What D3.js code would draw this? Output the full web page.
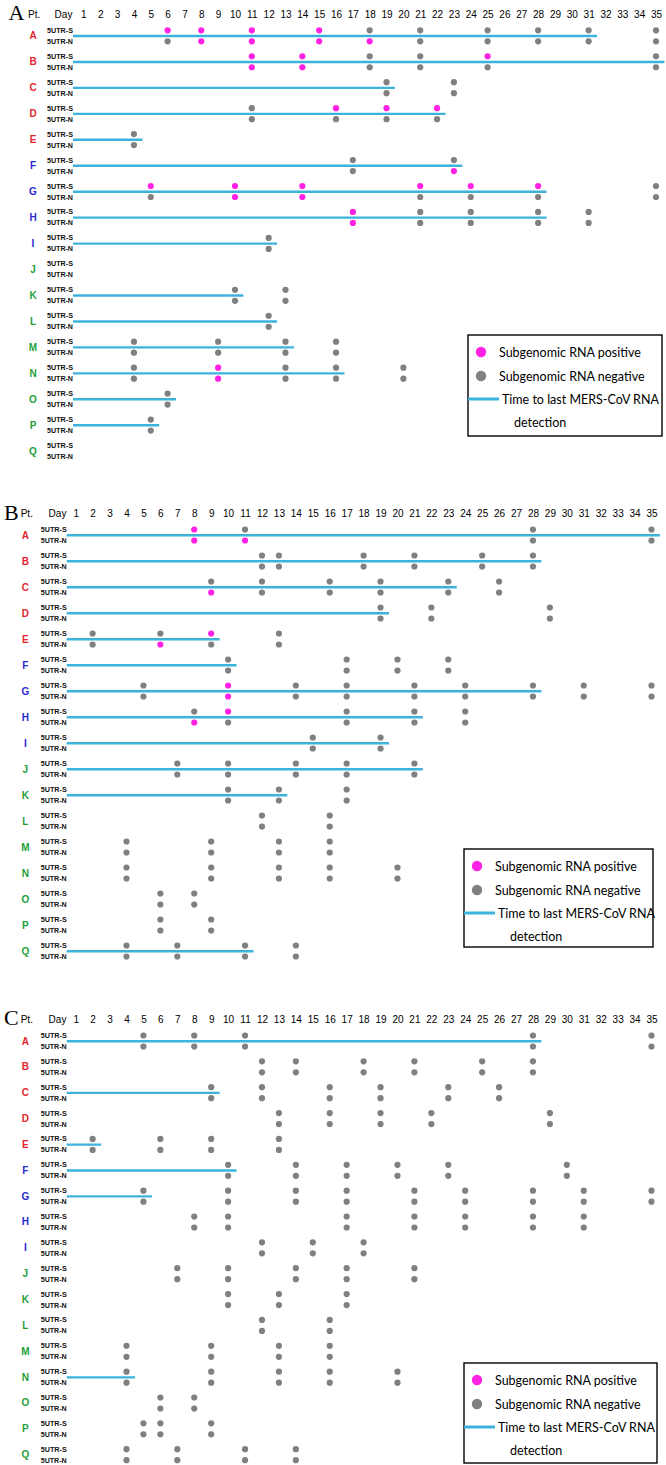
<!DOCTYPE html>
<html>
<head>
<meta charset="utf-8">
<script src="https://cdn.jsdelivr.net/npm/d3@7"></script>
<style>
  body { margin: 0; background: #fff; }
  svg { display: block; }
</style>
</head>
<body>
<div id="chart"></div>
<script>
// Days shown in the header of every panel
const days = [1, 2, 3, 4, 5, 6, 7, 8, 9, 10, 11, 12, 13, 14, 15, 16, 17, 18,
              19, 20, 21, 22, 23, 24, 25, 26, 27, 28, 29, 30, 31, 32, 33, 34, 35];
const patients = ['A', 'B', 'C', 'D', 'E', 'F', 'G', 'H', 'I', 'J', 'K', 'L', 'M', 'N', 'O', 'P', 'Q'];
const targets = ['5UTR-S', '5UTR-N'];

// [patient, day, 5UTR-S subgenomic, 5UTR-N subgenomic]  1 = positive, 0 = negative
const panelA_samples = [
  ['A', 6, 1, 0], ['A', 8, 1, 1], ['A', 11, 1, 1], ['A', 15, 1, 1], ['A', 18, 0, 1],
  ['A', 21, 0, 0], ['A', 25, 0, 0], ['A', 28, 0, 0], ['A', 31, 0, 0], ['A', 35, 0, 0],
  ['B', 11, 1, 1], ['B', 14, 1, 1], ['B', 18, 0, 0], ['B', 21, 0, 0], ['B', 25, 1, 0], ['B', 35, 0, 0],
  ['C', 19, 0, 0], ['C', 23, 0, 0],
  ['D', 11, 0, 0], ['D', 16, 1, 0], ['D', 19, 1, 0], ['D', 22, 1, 0],
  ['E', 4, 0, 0],
  ['F', 17, 0, 0], ['F', 23, 0, 1],
  ['G', 5, 1, 0], ['G', 10, 1, 1], ['G', 14, 1, 1], ['G', 21, 1, 0], ['G', 24, 1, 0], ['G', 28, 1, 0], ['G', 35, 0, 0],
  ['H', 17, 1, 1], ['H', 21, 0, 0], ['H', 24, 0, 0], ['H', 28, 0, 0], ['H', 31, 0, 0],
  ['I', 12, 0, 0],
  ['K', 10, 0, 0], ['K', 13, 0, 0],
  ['L', 12, 0, 0],
  ['M', 4, 0, 0], ['M', 9, 0, 0], ['M', 13, 0, 0], ['M', 16, 0, 0],
  ['N', 4, 0, 0], ['N', 9, 1, 1], ['N', 13, 0, 0], ['N', 16, 0, 0], ['N', 20, 0, 0],
  ['O', 6, 0, 0],
  ['P', 5, 0, 0]
];
// [patient, last day with MERS-CoV RNA detected]
const panelA_lastDetection = [
  ['A', 31], ['B', 35], ['C', 19], ['D', 22], ['E', 4], ['F', 23], ['G', 28], ['H', 28],
  ['I', 12], ['K', 10], ['L', 12], ['M', 13], ['N', 16], ['O', 6], ['P', 5]
];

const panelB_samples = [
  ['A', 8, 1, 1], ['A', 11, 0, 1], ['A', 28, 0, 0], ['A', 35, 0, 0],
  ['B', 12, 0, 0], ['B', 13, 0, 0], ['B', 18, 0, 0], ['B', 21, 0, 0], ['B', 25, 0, 0], ['B', 28, 0, 0],
  ['C', 9, 0, 1], ['C', 12, 0, 0], ['C', 16, 0, 0], ['C', 19, 0, 0], ['C', 23, 0, 0], ['C', 26, 0, 0],
  ['D', 19, 0, 0], ['D', 22, 0, 0], ['D', 29, 0, 0],
  ['E', 2, 0, 0], ['E', 6, 0, 1], ['E', 9, 1, 0], ['E', 13, 0, 0],
  ['F', 10, 0, 0], ['F', 17, 0, 0], ['F', 20, 0, 0], ['F', 23, 0, 0],
  ['G', 5, 0, 0], ['G', 10, 1, 1], ['G', 14, 0, 0], ['G', 17, 0, 0], ['G', 21, 0, 0],
  ['G', 24, 0, 0], ['G', 28, 0, 0], ['G', 31, 0, 0], ['G', 35, 0, 0],
  ['H', 8, 0, 1], ['H', 10, 1, 0], ['H', 17, 0, 0], ['H', 21, 0, 0], ['H', 24, 0, 0],
  ['I', 15, 0, 0], ['I', 19, 0, 0],
  ['J', 7, 0, 0], ['J', 10, 0, 0], ['J', 14, 0, 0], ['J', 17, 0, 0], ['J', 21, 0, 0],
  ['K', 10, 0, 0], ['K', 13, 0, 0], ['K', 17, 0, 0],
  ['L', 12, 0, 0], ['L', 16, 0, 0],
  ['M', 4, 0, 0], ['M', 9, 0, 0], ['M', 13, 0, 0], ['M', 16, 0, 0],
  ['N', 4, 0, 0], ['N', 9, 0, 0], ['N', 13, 0, 0], ['N', 16, 0, 0], ['N', 20, 0, 0],
  ['O', 6, 0, 0], ['O', 8, 0, 0],
  ['P', 6, 0, 0], ['P', 9, 0, 0],
  ['Q', 4, 0, 0], ['Q', 7, 0, 0], ['Q', 11, 0, 0], ['Q', 14, 0, 0]
];
const panelB_lastDetection = [
  ['A', 35], ['B', 28], ['C', 23], ['D', 19], ['E', 9], ['F', 10], ['G', 28],
  ['H', 21], ['I', 19], ['J', 21], ['K', 13], ['Q', 11]
];

const panelC_samples = [
  ['A', 5, 0, 0], ['A', 8, 0, 0], ['A', 11, 0, 0], ['A', 28, 0, 0], ['A', 35, 0, 0],
  ['B', 12, 0, 0], ['B', 14, 0, 0], ['B', 18, 0, 0], ['B', 21, 0, 0], ['B', 25, 0, 0], ['B', 28, 0, 0],
  ['C', 9, 0, 0], ['C', 12, 0, 0], ['C', 16, 0, 0], ['C', 19, 0, 0], ['C', 23, 0, 0], ['C', 26, 0, 0],
  ['D', 13, 0, 0], ['D', 16, 0, 0], ['D', 19, 0, 0], ['D', 22, 0, 0], ['D', 29, 0, 0],
  ['E', 2, 0, 0], ['E', 6, 0, 0], ['E', 9, 0, 0], ['E', 13, 0, 0],
  ['F', 10, 0, 0], ['F', 14, 0, 0], ['F', 17, 0, 0], ['F', 20, 0, 0], ['F', 23, 0, 0], ['F', 30, 0, 0],
  ['G', 5, 0, 0], ['G', 10, 0, 0], ['G', 14, 0, 0], ['G', 17, 0, 0], ['G', 21, 0, 0],
  ['G', 24, 0, 0], ['G', 28, 0, 0], ['G', 31, 0, 0], ['G', 35, 0, 0],
  ['H', 8, 0, 0], ['H', 10, 0, 0], ['H', 17, 0, 0], ['H', 21, 0, 0], ['H', 24, 0, 0], ['H', 28, 0, 0], ['H', 31, 0, 0],
  ['I', 12, 0, 0], ['I', 15, 0, 0], ['I', 18, 0, 0],
  ['J', 7, 0, 0], ['J', 10, 0, 0], ['J', 14, 0, 0], ['J', 17, 0, 0], ['J', 21, 0, 0],
  ['K', 10, 0, 0], ['K', 13, 0, 0], ['K', 17, 0, 0],
  ['L', 12, 0, 0], ['L', 16, 0, 0],
  ['M', 4, 0, 0], ['M', 9, 0, 0], ['M', 13, 0, 0], ['M', 16, 0, 0],
  ['N', 4, 0, 0], ['N', 9, 0, 0], ['N', 13, 0, 0], ['N', 16, 0, 0], ['N', 20, 0, 0],
  ['O', 6, 0, 0], ['O', 8, 0, 0],
  ['P', 5, 0, 0], ['P', 6, 0, 0], ['P', 9, 0, 0],
  ['Q', 4, 0, 0], ['Q', 7, 0, 0], ['Q', 11, 0, 0], ['Q', 14, 0, 0]
];
const panelC_lastDetection = [
  ['A', 28], ['C', 9], ['E', 2], ['F', 10], ['G', 5], ['N', 4]
];

const legendLabels = ['Subgenomic RNA positive', 'Subgenomic RNA negative', 'Time to last MERS-CoV RNA', 'detection'];

// Styles
const POS = '#ff22e4', NEG = '#808080', LINE = '#3db3dc';
const RED = '#e3262e', BLUE = '#2a2ad0', GREEN = '#23a03a';
function patientColor(p) {
  if ('ABCDE'.includes(p)) return RED;
  if ('FGHI'.includes(p)) return BLUE;
  return GREEN;
}

const width = 666, height = 1465;
const svg = d3.select('#chart').append('svg')
  .attr('width', width)
  .attr('height', height);

const panels = [
  { name: 'A', samples: panelA_samples, last: panelA_lastDetection,
    headerY: 14, xRange: [83.4, 656], rowRange: [35.8, 451], labelRight: 73,
    letterX: 33, bigX: 8.5, ptX: 28, dayX: 63.5,
    legend: { x: 468, y: 335, w: 194, h: 101 } },
  { name: 'B', samples: panelB_samples, last: panelB_lastDetection,
    headerY: 513.5, xRange: [75.7, 651.5], rowRange: [535, 951], labelRight: 66.7,
    letterX: 25.3, bigX: 4, ptX: 20.7, dayX: 57.5,
    legend: { x: 464, y: 849, w: 189, h: 98 } },
  { name: 'C', samples: panelC_samples, last: panelC_lastDetection,
    headerY: 1019, xRange: [75.7, 651.5], rowRange: [1041, 1454.7], labelRight: 66.7,
    letterX: 25.3, bigX: 4, ptX: 20.7, dayX: 57.5,
    legend: { x: 464, y: 1363, w: 193, h: 100 } }
];

panels.forEach(drawPanel);

function drawPanel(p) {
  const g = svg.append('g').attr('class', 'panel-' + p.name);

  const x = d3.scaleLinear().domain([1, 35]).range(p.xRange);
  const step = x(2) - x(1);
  const y = d3.scalePoint().domain(patients).range(p.rowRange);
  const sub = d3.scalePoint().domain(targets).range([-5.5, 5.5]);

  // Panel letter, Pt. and Day
  g.append('text')
    .attr('x', p.bigX).attr('y', p.headerY + 6)
    .attr('font-family', 'Liberation Serif, serif')
    .attr('font-size', 22)
    .text(p.name);
  g.append('text')
    .attr('x', p.ptX).attr('y', p.headerY + 3.5)
    .attr('font-family', 'Liberation Sans, Arial, sans-serif')
    .attr('font-size', 10)
    .text('Pt.');
  g.append('text')
    .attr('x', p.dayX).attr('y', p.headerY + 3.5)
    .attr('text-anchor', 'middle')
    .attr('font-family', 'Liberation Sans, Arial, sans-serif')
    .attr('font-size', 10)
    .text('Day');

  // Day header as a top axis with no ticks
  g.append('g')
    .attr('transform', `translate(0,${p.headerY + 3.5})`)
    .call(d3.axisTop(x).tickValues(days).tickSize(0).tickPadding(0).tickFormat(d3.format('d')))
    .call(a => a.select('.domain').remove())
    .call(a => a.selectAll('text')
      .attr('font-family', 'Liberation Sans, Arial, sans-serif')
      .attr('font-size', 10)
      .attr('fill', '#000'));

  // Patient rows
  const rows = g.append('g').selectAll('g')
    .data(patients)
    .join('g')
    .attr('transform', d => `translate(0,${y(d)})`);

  rows.append('text')
    .attr('x', p.letterX)
    .attr('y', 0)
    .attr('text-anchor', 'middle')
    .attr('dominant-baseline', 'central')
    .attr('font-family', 'Liberation Sans, Arial, sans-serif')
    .attr('font-weight', 'bold')
    .attr('font-size', 10)
    .attr('fill', d => patientColor(d))
    .text(d => d);

  rows.selectAll('text.target')
    .data(targets)
    .join('text')
    .attr('class', 'target')
    .attr('x', p.labelRight - 26)
    .attr('y', t => sub(t))
    .attr('dominant-baseline', 'central')
    .attr('font-family', 'Liberation Sans, Arial, sans-serif')
    .attr('font-weight', 'bold')
    .attr('font-size', 8)
    .attr('textLength', 26)
    .attr('lengthAdjust', 'spacingAndGlyphs')
    .attr('fill', '#111')
    .text(t => t);

  // Time to last RNA detection
  g.append('g').selectAll('line')
    .data(p.last)
    .join('line')
    .attr('x1', p.labelRight)
    .attr('x2', d => x(d[1]) + step / 2)
    .attr('y1', d => y(d[0]) + 0.2)
    .attr('y2', d => y(d[0]) + 0.2)
    .attr('stroke', LINE)
    .attr('stroke-width', 2.4);

  // Sample dots, one per target
  const dots = [];
  p.samples.forEach(s => {
    dots.push({ pt: s[0], day: s[1], target: targets[0], pos: s[2] });
    dots.push({ pt: s[0], day: s[1], target: targets[1], pos: s[3] });
  });
  g.append('g').selectAll('circle')
    .data(dots)
    .join('circle')
    .attr('cx', d => x(d.day))
    .attr('cy', d => y(d.pt) + sub(d.target))
    .attr('r', 3.1)
    .attr('fill', d => d.pos ? POS : NEG);

  drawLegend(g, p.legend);
}

function drawLegend(g, L) {
  const lg = g.append('g').attr('transform', `translate(${L.x},${L.y})`);
  lg.append('rect')
    .attr('width', L.w).attr('height', L.h)
    .attr('fill', '#fff')
    .attr('stroke', '#000')
    .attr('stroke-width', 1.4);

  const rowY = [17, 41, 64, 87];
  const font = 'Lato, Calibri, Carlito, sans-serif';

  lg.append('circle').attr('cx', 13).attr('cy', rowY[0]).attr('r', 5.2).attr('fill', POS);
  lg.append('circle').attr('cx', 13).attr('cy', rowY[1]).attr('r', 5.2).attr('fill', NEG);
  lg.append('line')
    .attr('x1', 0).attr('x2', 31)
    .attr('y1', rowY[2]).attr('y2', rowY[2])
    .attr('stroke', LINE).attr('stroke-width', 3);

  const tx = [31, 31, 34, 46];
  lg.selectAll('text')
    .data(legendLabels)
    .join('text')
    .attr('x', (d, i) => tx[i])
    .attr('y', (d, i) => rowY[i])
    .attr('dominant-baseline', 'central')
    .attr('font-family', font)
    .attr('font-size', 12.5)
    .attr('fill', '#000')
    .text(d => d);
}
</script>
</body>
</html>
